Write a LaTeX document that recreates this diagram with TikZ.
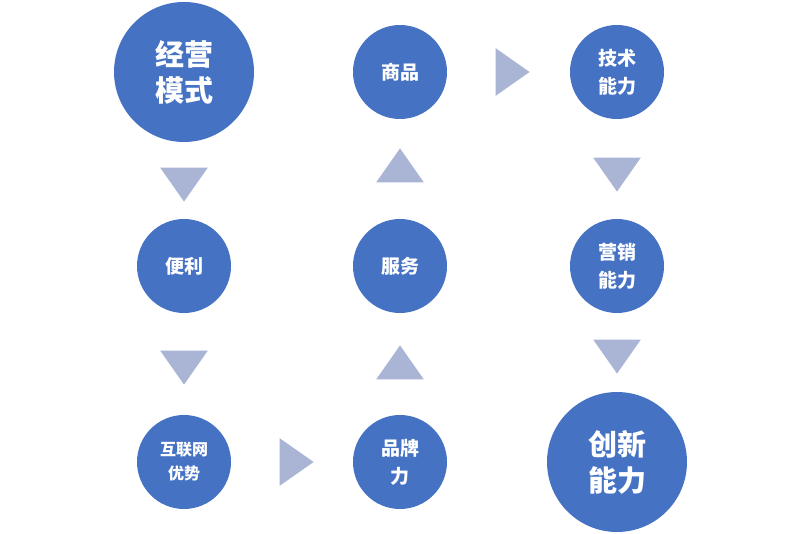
\documentclass[tikz,border=0pt]{standalone}
\usepackage{fontspec}
\newfontfamily\cjk{Noto Sans CJK SC}
\usetikzlibrary{shapes.geometric}
\definecolor{circblue}{RGB}{70,114,196}
\definecolor{triblue}{RGB}{170,181,214}
\tikzset{
  bigcirc/.style={circle,fill=circblue,minimum size=140pt,inner sep=0pt,
    text=white,font=\cjk\fontsize{29pt}{36pt}\selectfont\bfseries,align=center},
  smallcirc/.style={circle,fill=circblue,minimum size=94pt,inner sep=0pt,
    text=white,font=\cjk\fontsize{19pt}{28pt}\selectfont\bfseries,align=center},
  tri/.style={isosceles triangle,isosceles triangle apex angle=70,fill=triblue,
    minimum height=34pt,inner sep=0pt,shape border rotate=#1}
}
\begin{document}
\begin{tikzpicture}[x=1pt,y=-1pt]
        \useasboundingbox (0,0) rectangle (800,534);

        % Circles
        \node[bigcirc] (jingying) at (184,72) {经营\\模式};
        \node[smallcirc] (bianli) at (184,266) {便利};
        \node[smallcirc,font=\cjk\fontsize{16pt}{24pt}\selectfont\bfseries] (hulian) at (184,462) {互联网\\优势};
        \node[smallcirc] (pinpai) at (400,462) {品牌\\力};
        \node[smallcirc] (fuwu) at (400,266) {服务};
        \node[smallcirc] (shangpin) at (400,72) {商品};
        \node[smallcirc] (jishu) at (617,72) {技术\\能力};
        \node[smallcirc] (yingxiao) at (617,266) {营销\\能力};
        \node[bigcirc] (chuangxin) at (617,462) {创新\\能力};

        % Triangles
        \node[tri=-90] (t1) at (184,180) {};
        \node[tri=-90] (t2) at (184,363) {};
        \node[tri=0] (t3) at (292,462) {};
        \node[tri=90] (t4) at (400,367) {};
        \node[tri=90] (t5) at (400,170) {};
        \node[tri=0] (t6) at (508,72) {};
        \node[tri=-90] (t7) at (617,170) {};
        \node[tri=-90] (t8) at (617,352) {};
\end{tikzpicture}
\end{document}
